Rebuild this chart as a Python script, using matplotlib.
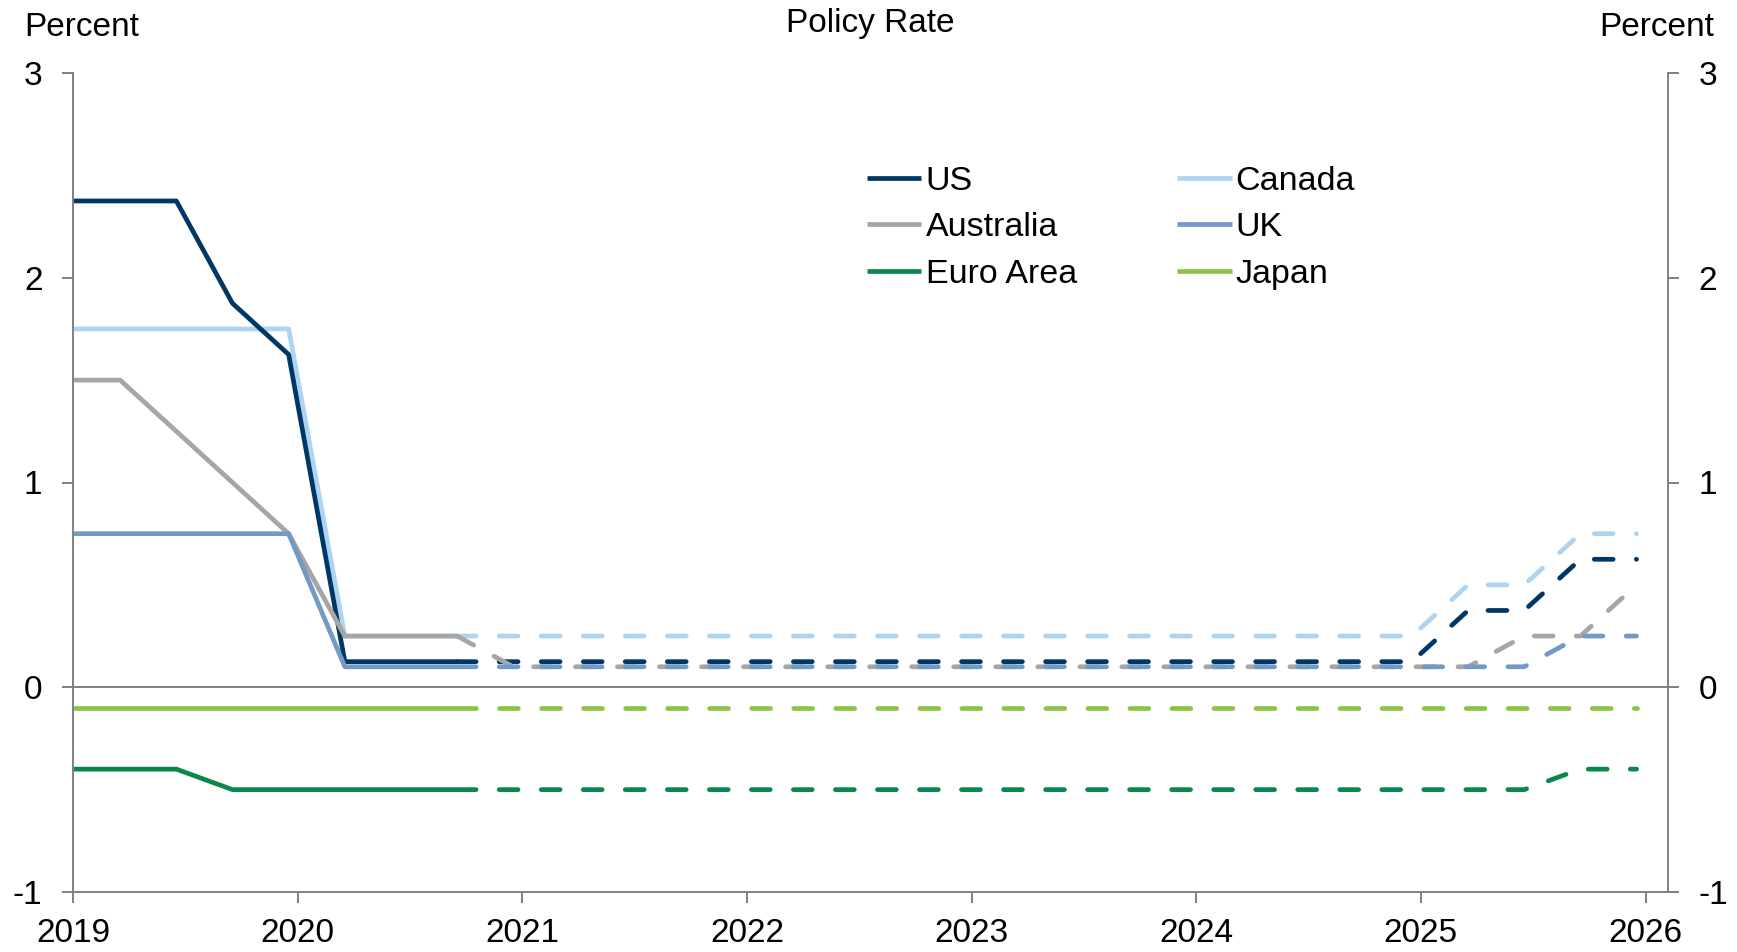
import matplotlib
matplotlib.use("Agg")
import matplotlib.pyplot as plt

plt.rcParams['font.family'] = ['Liberation Sans', 'DejaVu Sans']
plt.rcParams['axes.unicode_minus'] = False

# Data (quarterly, fractional years)
hist_x = [2019.0, 2019.21, 2019.46, 2019.71, 2019.96, 2020.21, 2020.46, 2020.71]
fc_x = [2020.71 + 0.25 * k for k in range(22)]

us = [2.375, 2.375, 2.375, 1.875, 1.625, 0.125, 0.125, 0.125]
canada = [1.75, 1.75, 1.75, 1.75, 1.75, 0.25, 0.25, 0.25]
australia = [1.5, 1.5, 1.25, 1.0, 0.75, 0.25, 0.25, 0.25]
uk = [0.75, 0.75, 0.75, 0.75, 0.75, 0.1, 0.1, 0.1]
euro = [-0.4, -0.4, -0.4, -0.5, -0.5, -0.5, -0.5, -0.5]
japan = [-0.1] * 8

us_fc = [0.125] * 18 + [0.375, 0.375, 0.625, 0.625]
canada_fc = [0.25] * 18 + [0.5, 0.5, 0.75, 0.75]
australia_fc = [0.25] + [0.1] * 18 + [0.25, 0.25, 0.5]
uk_fc = [0.1] * 20 + [0.25, 0.25]
euro_fc = [-0.5] * 20 + [-0.4, -0.4]
japan_fc = [-0.1] * 22

colors = {
    'US': '#003764',
    'Canada': '#ADD5F1',
    'Australia': '#A6A6A6',
    'UK': '#7399C6',
    'Euro Area': '#08894A',
    'Japan': '#8DC447',
}

series = [
    ('Canada', canada, canada_fc),
    ('US', us, us_fc),
    ('Australia', australia, australia_fc),
    ('UK', uk, uk_fc),
    ('Euro Area', euro, euro_fc),
    ('Japan', japan, japan_fc),
]

fig = plt.figure(figsize=(17.37, 9.52), dpi=100)
ax = fig.add_axes([73 / 1737, 1 - 892 / 952, (1668 - 73) / 1737, (892 - 73) / 952])

gray = '#808080'
ax.axhline(0, color=gray, lw=1.4, zorder=1)

lines = {}
for name, h, f in series:
    ln, = ax.plot(hist_x, h, color=colors[name], lw=3.4, solid_capstyle='butt', zorder=2, label=name)
    lines[name] = ln
for name, h, f in series:
    ax.plot(fc_x, f, color=colors[name], lw=3.4, dashes=(4.0, 4.9), dash_capstyle='round', zorder=3)

ax.set_xlim(2019, 2026.1)
ax.set_ylim(-1, 3)
ax.set_xticks(range(2019, 2027))
ax.set_xticklabels([str(y) for y in range(2019, 2027)])
ax.set_yticks([-1, 0, 1, 2, 3])
ax.set_yticklabels(['-1', '0', '1', '2', '3'])

for s in ['left', 'right', 'bottom']:
    ax.spines[s].set_color(gray)
    ax.spines[s].set_linewidth(1.4)
ax.spines['top'].set_visible(False)
ax.tick_params(axis='both', direction='out', length=8, width=1.4, color=gray,
               labelsize=24, labelcolor='black', pad=14)
ax.tick_params(axis='x', labelsize=24, pad=11)
ax.tick_params(axis='y', right=True, labelright=True)

order = ['US', 'Australia', 'Euro Area', 'Canada', 'UK', 'Japan']
leg = ax.legend([lines[n] for n in order], order, ncol=2, frameon=False, fontsize=24.5,
                loc='upper left', bbox_to_anchor=(867 / 1737, 1 - 166 / 952),
                bbox_transform=fig.transFigure, borderpad=0, borderaxespad=0,
                handlelength=1.6, handletextpad=0.12, columnspacing=2.95, labelspacing=0.45)

fig.text(24 / 1737, 1 - 12 / 952, 'Percent', fontsize=24, ha='left', va='top')
fig.text(1714 / 1737, 1 - 12 / 952, 'Percent', fontsize=24, ha='right', va='top')
fig.text(870 / 1737, 1 - 8 / 952, 'Policy Rate', fontsize=24, ha='center', va='top')

fig.savefig('out.png', dpi=100)
